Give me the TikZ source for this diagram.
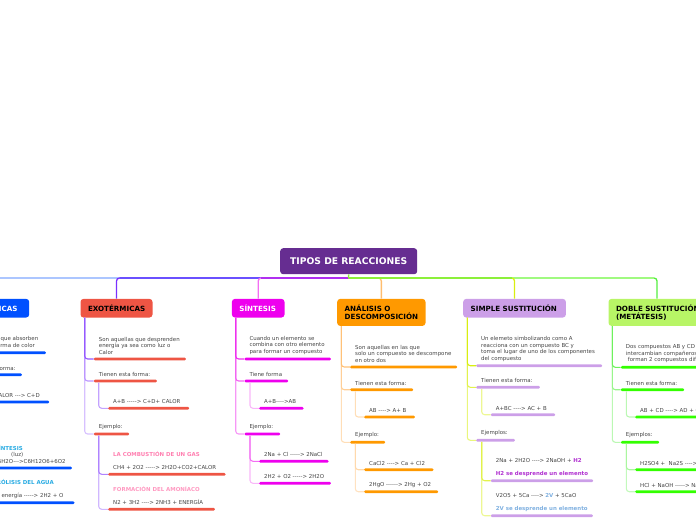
\documentclass[tikz,border=0pt]{standalone}
\usepackage{fontspec}
\usepackage{xcolor}
\setmainfont{DejaVu Sans}[Ligatures=TeXOff]
\usetikzlibrary{positioning}

\definecolor{rootcol}{HTML}{662D91}
\definecolor{endocol}{HTML}{0050FF}
\definecolor{exocol}{HTML}{EE5544}
\definecolor{sincol}{HTML}{EE00EE}
\definecolor{anacol}{HTML}{FF9900}
\definecolor{simcol}{HTML}{CC9FE8}
\definecolor{doblecol}{HTML}{B8F566}
\definecolor{doblebar}{HTML}{33FF00}
\definecolor{exotone}{HTML}{7A30FF}
\definecolor{sintone}{HTML}{EE30EE}
\definecolor{anatone}{HTML}{FFA030}
\definecolor{simtone}{HTML}{D8EE10}
\definecolor{dobletone}{HTML}{55EE40}
\definecolor{trunkendo}{HTML}{80A8FF}
\definecolor{trunkexo}{HTML}{6A50FF}
\definecolor{trunksin}{HTML}{B030F0}
\definecolor{trunksim}{HTML}{8CF03A}
\definecolor{trunkdoble}{HTML}{A0FA80}
\definecolor{leafgray}{HTML}{444444}
\definecolor{pinktxt}{HTML}{FF7FB0}
\definecolor{cyantxt}{HTML}{29ABE2}
\definecolor{purpletxt}{HTML}{B030D0}
\definecolor{bluetxt}{HTML}{7FB0E0}

\begin{document}
\begin{tikzpicture}[
        x=1pt, y=-1pt,
        topic/.style={rectangle, rounded corners=3pt, anchor=north west, inner xsep=7.5pt, inner ysep=0pt, align=left, font=\fontsize{7.15}{8}\selectfont\bfseries},
        bar/.style={rectangle, rounded corners=1.2pt, inner sep=0pt, minimum height=2.8pt, anchor=west},
        leaf/.style={inner sep=0pt, align=left, text=leafgray, font=\fontsize{5.45}{6.5}\selectfont},
        on bar/.style={above=2.7pt of #1.north west, anchor=south west, xshift=5pt},
        trunk/.style={line width=1.3pt, rounded corners=3pt},
        branch/.style={line width=1.1pt, rounded corners=3pt}
    ]
    \useasboundingbox (0,0) rectangle (696,520);

    % Root
    \node[rectangle, rounded corners=3pt, fill=rootcol, text=white, minimum width=137pt, minimum height=26pt, anchor=north west, inner sep=0pt, font=\fontsize{9.2}{10}\selectfont\bfseries] (root) at (280,248) {TIPOS DE REACCIONES};
    \coordinate (hub) at (348.5,278);

    % Topics
    \node[topic, fill=endocol, text=white, minimum height=18.6pt, text width=68pt] (endo) at (-54,298.7) {ENDOTÉRMICAS};
    \node[topic, fill=exocol, minimum height=18.6pt, text width=57pt] (exo) at (80.3,298.7) {EXOTÉRMICAS};
    \node[topic, fill=sincol, text=white, minimum height=18.6pt, text width=37.6pt] (sin) at (231.7,298.7) {SÍNTESIS};
    \node[topic, fill=anacol, minimum height=27pt, text width=73.3pt] (ana) at (337,298.7) {ANÁLISIS O\\DESCOMPOSICIÓN};
    \node[topic, fill=simcol, minimum height=18.6pt, text width=87.7pt] (sim) at (463,298.7) {SIMPLE SUSTITUCIÓN};
    \node[topic, fill=doblecol, minimum height=27pt, text width=94pt] (doble) at (608.3,298.7) {DOBLE SUSTITUCIÓN\\(METÁTESIS)};
    \coordinate (doblein) at (657,298.7);

    % Trunk - left side
    \draw[trunk, color=trunkendo] (hub) -| (endo.north);
    \draw[trunk, color=exotone] (hub) -| (exo.north);
    \draw[trunk, color=trunkexo, shorten >=3pt] (hub) -- (hub -| exo.north);
    \draw[trunk, color=sintone!70] (hub) -| (sin.north);
    \draw[trunk, color=trunksin, shorten >=3pt] (hub) -- (hub -| sin.north);

    % Trunk - right side
    \draw[trunk, color=dobletone] (hub) -| (doblein);
    \draw[trunk, color=trunkdoble, shorten >=3pt] (hub) -- (hub -| doblein);
    \draw[trunk, color=simtone] (hub) -| (sim.north);
    \draw[trunk, color=anatone!70] (hub) -| (ana.north);
    \draw[trunk, color=trunksim, shorten >=3pt] (hub) -- (hub -| sim.north);
    \draw[trunk, color=trunksim] (root.south) -- (hub);

    % Endotermicas
    \node[bar, fill=endocol, minimum width=86.7pt] (endoa) at (-41,352.7) {};
    \node[bar, fill=endocol, minimum width=62.7pt] (endob) at (-41,374.7) {};
    \node[bar, fill=endocol, minimum width=76pt] (endob1) at (-27,402) {};
    \node[bar, fill=endocol, minimum width=33pt] (endoc) at (-41,430) {};
    \node[bar, fill=endocol, minimum width=98.7pt] (endoc1) at (-27,468) {};
    \node[bar, fill=endocol, minimum width=101.3pt] (endoc2) at (-27,502.7) {};
    \node[leaf, on bar=endoa] (endoatxt) {Son aquellas que absorben\\energía en forma de color};
    \node[leaf, on bar=endob] (endobtxt) {Tienen esta forma:};
    \node[leaf, on bar=endob1] (endob1txt) {A+B+CALOR ---> C+D};
    \node[leaf, on bar=endoc] (endoctxt) {Ejemplo:};
    \node[leaf, on bar=endoc1] (endoc1txt) {\textcolor{cyantxt}{\textbf{FOTOSÍNTESIS}}\\\hspace*{33pt}(luz)\\6CO2+6H2O--->C6H12O6+6O2};
    \node[leaf, on bar=endoc2] (endoc2txt) {\textcolor{cyantxt}{\textbf{ELECTRÓLISIS DEL AGUA}}\\[6.5pt]2H2O + energía -----> 2H2 + O};

    % Exotermicas
    \node[bar, fill=exocol, minimum width=92pt] (exoa) at (93.7,359) {};
    \node[bar, fill=exocol, minimum width=63pt] (exob) at (93.7,381) {};
    \node[bar, fill=exocol, minimum width=81pt] (exob1) at (108,408.3) {};
    \node[bar, fill=exocol, minimum width=35.3pt] (exoc) at (93.7,434) {};
    \node[bar, fill=exocol, minimum width=117.3pt] (exoc1) at (108,474.3) {};
    \node[bar, fill=exocol, minimum width=106.7pt] (exoc2) at (108,509.3) {};
    \node[leaf, on bar=exoa] (exoatxt) {Son aquellas que desprenden\\energía ya sea como luz o\\Calor};
    \node[leaf, on bar=exob] (exobtxt) {Tienen esta forma:};
    \node[leaf, on bar=exob1] (exob1txt) {A+B -----> C+D+ CALOR};
    \node[leaf, on bar=exoc] (exoctxt) {Ejemplo:};
    \node[leaf, on bar=exoc1] (exoc1txt) {\textcolor{pinktxt}{\textbf{LA COMBUSTIÓN DE UN GAS}}\\[6.5pt]CH4 + 2O2 -----> 2H2O+CO2+CALOR};
    \node[leaf, on bar=exoc2] (exoc2txt) {\textcolor{pinktxt!80}{\textbf{FORMACIÓN DEL AMONÍACO}}\\[6.5pt]N2 + 3H2 ----> 2NH3 + ENERGÍA};

    % Sintesis
    \node[bar, fill=sincol, minimum width=86.4pt] (sina) at (244.3,359) {};
    \node[bar, fill=sincol, minimum width=43.7pt] (sinb) at (244.3,381) {};
    \node[bar, fill=sincol, minimum width=44.3pt] (sinb1) at (259,408.3) {};
    \node[bar, fill=sincol, minimum width=35.7pt] (sinc) at (244.3,434) {};
    \node[bar, fill=sincol, minimum width=69.3pt] (sinc1) at (259,461.3) {};
    \node[bar, fill=sincol, minimum width=71.7pt] (sinc2) at (259,483.3) {};
    \node[leaf, on bar=sina] (sinatxt) {Cuando un elemento se\\combina con otro elemento\\para formar un compuesto};
    \node[leaf, on bar=sinb] (sinbtxt) {Tiene forma};
    \node[leaf, on bar=sinb1] (sinb1txt) {A+B---->AB};
    \node[leaf, on bar=sinc] (sinctxt) {Ejemplo:};
    \node[leaf, on bar=sinc1] (sinc1txt) {2Na + Cl -----> 2NaCl};
    \node[leaf, on bar=sinc2] (sinc2txt) {2H2 + O2 -----> 2H2O};

    % Analisis o descomposicion
    \node[bar, fill=anacol, minimum width=107pt] (anaa) at (350,367) {};
    \node[bar, fill=anacol, minimum width=63pt] (anab) at (350,389.7) {};
    \node[bar, fill=anacol, minimum width=50.7pt] (anab1) at (364,417) {};
    \node[bar, fill=anacol, minimum width=35pt] (anac) at (350,442.3) {};
    \node[bar, fill=anacol, minimum width=69.3pt] (anac1) at (364,469.7) {};
    \node[bar, fill=anacol, minimum width=74pt] (anac2) at (364,491.7) {};
    \node[leaf, on bar=anaa] (anaatxt) {Son aquellas en las que\\solo un compuesto se descompone\\en otro dos};
    \node[leaf, on bar=anab] (anabtxt) {Tienen esta forma:};
    \node[leaf, on bar=anab1] (anab1txt) {AB ----> A+ B};
    \node[leaf, on bar=anac] (anactxt) {Ejemplo:};
    \node[leaf, on bar=anac1] (anac1txt) {CaCl2 ----> Ca + Cl2};
    \node[leaf, on bar=anac2] (anac2txt) {2HgO ------> 2Hg + O2};

    % Simple sustitucion
    \node[bar, fill=simcol, minimum width=126pt] (sima) at (476,365.7) {};
    \node[bar, fill=simcol, minimum width=63.7pt] (simb) at (476,387.3) {};
    \node[bar, fill=simcol, minimum width=64.3pt] (simb1) at (490.7,414.7) {};
    \node[bar, fill=simcol, minimum width=38.7pt] (simc) at (476,440.3) {};
    \node[bar, fill=simcol, minimum width=102.3pt] (simc1) at (490.7,480.7) {};
    \node[bar, fill=simcol, minimum width=102pt] (simc2) at (490.7,515.7) {};
    \node[leaf, on bar=sima] (simatxt) {Un elemeto simbolizando como A\\reacciona con un compuesto BC y\\toma el lugar de uno de los componentes\\del compuesto};
    \node[leaf, on bar=simb] (simbtxt) {Tienen esta forma:};
    \node[leaf, on bar=simb1] (simb1txt) {A+BC ----> AC + B};
    \node[leaf, on bar=simc] (simctxt) {Ejemplos:};
    \node[leaf, on bar=simc1] (simc1txt) {2Na + 2H2O ----> 2NaOH + \textcolor{purpletxt}{\textbf{H2}}\\[6.5pt]\textcolor{purpletxt}{\textbf{H2 se desprende un elemento}}};
    \node[leaf, on bar=simc2] (simc2txt) {V2O5 + 5Ca ----> \textcolor{bluetxt}{\textbf{2V}} + 5CaO\\[6.5pt]\textcolor{bluetxt}{\textbf{2V se desprende un elemento}}};

    % Doble sustitucion
    \node[bar, fill=doblebar, minimum width=110pt] (doblea) at (620.7,367.3) {};
    \node[bar, fill=doblebar, minimum width=63.3pt] (dobleb) at (620.7,389.7) {};
    \node[bar, fill=doblebar, minimum width=90pt] (dobleb1) at (635,417) {};
    \node[bar, fill=doblebar, minimum width=38.3pt] (doblec) at (620.7,442.3) {};
    \node[bar, fill=doblebar, minimum width=120pt] (doblec1) at (635,469.7) {};
    \node[bar, fill=doblebar, minimum width=90pt] (doblec2) at (635,491.7) {};
    \node[leaf, on bar=doblea] (dobleatxt) {Dos compuestos AB y CD\\intercambian compañeros y\\\hspace*{2pt}forman 2 compuestos diferentes};
    \node[leaf, on bar=dobleb] (doblebtxt) {Tienen esta forma:};
    \node[leaf, on bar=dobleb1] (dobleb1txt) {AB + CD ----> AD + CB};
    \node[leaf, on bar=doblec] (doblectxt) {Ejemplos:};
    \node[leaf, on bar=doblec1] (doblec1txt) {H2SO4 +\ \ Na2S ----> H2S + Na2SO4};
    \node[leaf, on bar=doblec2] (doblec2txt) {HCl + NaOH -----> NaCl + H2O};

    % Connections - topics to first level
    \draw[branch, color=endocol!25] ([xshift=4.4pt]endo.south west) |- (endoc.west);
    \draw[branch, color=endocol!40] ([xshift=4.4pt]endo.south west) |- (endob.west);
    \draw[branch, color=endocol!60] ([xshift=4.4pt]endo.south west) |- (endoa.west);
    \draw[branch, color=exotone!30] ([xshift=4.4pt]exo.south west) |- (exoc.west);
    \draw[branch, color=exotone!50] ([xshift=4.4pt]exo.south west) |- (exob.west);
    \draw[branch, color=exotone!80] ([xshift=4.4pt]exo.south west) |- (exoa.west);
    \draw[branch, color=sintone!50] ([xshift=4pt]sin.south west) |- (sinc.west);
    \draw[branch, color=sintone!75] ([xshift=4pt]sin.south west) |- (sinb.west);
    \draw[branch, color=sintone] ([xshift=4pt]sin.south west) |- (sina.west);
    \draw[branch, color=anatone!35] ([xshift=4.3pt]ana.south west) |- (anac.west);
    \draw[branch, color=anatone!50] ([xshift=4.3pt]ana.south west) |- (anab.west);
    \draw[branch, color=anatone!65] ([xshift=4.3pt]ana.south west) |- (anaa.west);
    \draw[branch, color=simtone!55] ([xshift=4.3pt]sim.south west) |- (simc.west);
    \draw[branch, color=simtone!75] ([xshift=4.3pt]sim.south west) |- (simb.west);
    \draw[branch, color=simtone] ([xshift=4.3pt]sim.south west) |- (sima.west);
    \draw[branch, color=dobletone!40] ([xshift=4pt]doble.south west) |- (doblec.west);
    \draw[branch, color=dobletone!60] ([xshift=4pt]doble.south west) |- (dobleb.west);
    \draw[branch, color=dobletone!85] ([xshift=4pt]doble.south west) |- (doblea.west);

    % Connections - first level to second level
    \draw[branch, color=endocol!30] ([xshift=5pt]endob.south west) |- (endob1.west);
    \draw[branch, color=endocol!30] ([xshift=5pt]endoc.south west) |- (endoc2.west);
    \draw[branch, color=endocol!50] ([xshift=5pt]endoc.south west) |- (endoc1.west);
    \draw[branch, color=exotone!45] ([xshift=5pt]exob.south west) |- (exob1.west);
    \draw[branch, color=exotone!35] ([xshift=5pt]exoc.south west) |- (exoc2.west);
    \draw[branch, color=exotone!60] ([xshift=5pt]exoc.south west) |- (exoc1.west);
    \draw[branch, color=sintone!35] ([xshift=5.7pt]sinb.south west) |- (sinb1.west);
    \draw[branch, color=sintone!35] ([xshift=5.7pt]sinc.south west) |- (sinc2.west);
    \draw[branch, color=sintone!70] ([xshift=5.7pt]sinc.south west) |- (sinc1.west);
    \draw[branch, color=anatone!35] ([xshift=5.3pt]anab.south west) |- (anab1.west);
    \draw[branch, color=anatone!30] ([xshift=5.3pt]anac.south west) |- (anac2.west);
    \draw[branch, color=anatone!40] ([xshift=5.3pt]anac.south west) |- (anac1.west);
    \draw[branch, color=simtone!45] ([xshift=5.7pt]simb.south west) |- (simb1.west);
    \draw[branch, color=simtone!45] ([xshift=5.7pt]simc.south west) |- (simc2.west);
    \draw[branch, color=simtone!75] ([xshift=5.7pt]simc.south west) |- (simc1.west);
    \draw[branch, color=dobletone!40] ([xshift=5.6pt]dobleb.south west) |- (dobleb1.west);
    \draw[branch, color=dobletone!35] ([xshift=5.6pt]doblec.south west) |- (doblec2.west);
    \draw[branch, color=dobletone!50] ([xshift=5.6pt]doblec.south west) |- (doblec1.west);

\end{tikzpicture}
\end{document}
